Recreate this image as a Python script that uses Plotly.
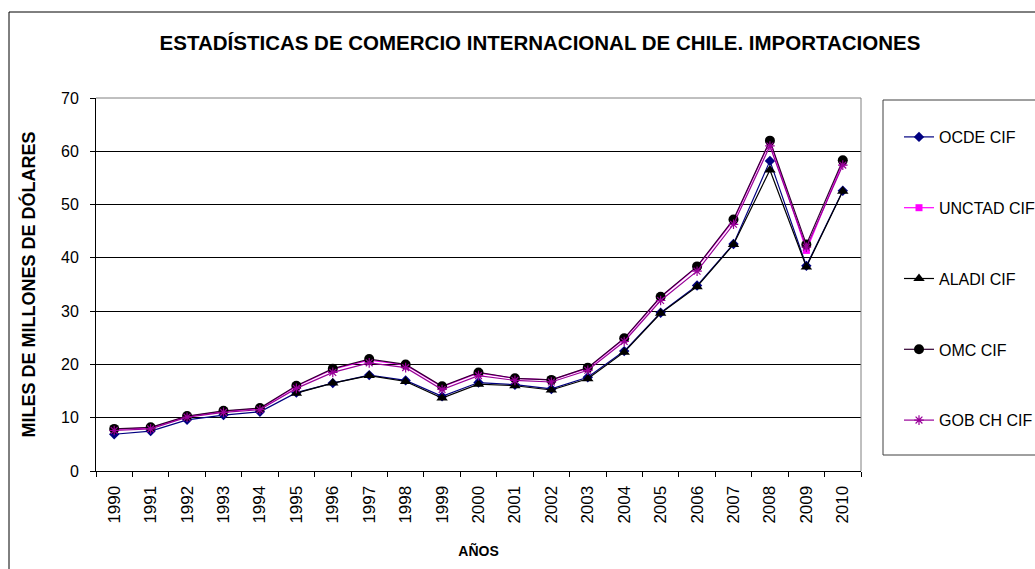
import plotly.graph_objects as go

years = [str(y) for y in range(1990, 2011)]

ocde = [6.9, 7.5, 9.6, 10.5, 11.1, 14.7, 16.5, 18.0, 17.0, 14.0, 16.6, 16.2, 15.4, 17.6, 22.5, 29.7, 34.8, 42.6, 58.2, 38.5, 52.6]
unctad = [7.8, 8.1, 10.2, 11.2, 11.7, 15.9, 19.1, 20.8, 19.9, 15.8, 18.4, 17.4, 17.1, 19.3, 24.8, 32.6, 38.3, 47.0, 61.9, 41.4, 58.0]
aladi = [None, None, None, None, None, 14.6, 16.5, 17.9, 16.8, 13.7, 16.3, 16.0, 15.2, 17.3, 22.3, 29.6, 34.6, 42.5, 56.5, 38.3, 52.5]
omc = [7.9, 8.2, 10.3, 11.3, 11.8, 16.0, 19.2, 21.0, 20.0, 15.9, 18.5, 17.4, 17.1, 19.4, 24.9, 32.7, 38.4, 47.2, 62.0, 42.5, 58.3]
gob = [7.6, 7.9, 10.1, 11.0, 11.5, 15.5, 18.5, 20.3, 19.4, 15.3, 17.9, 17.0, 16.7, 18.9, 24.3, 32.0, 37.5, 46.3, 61.0, 42.0, 57.4]

names = ["OCDE CIF", "UNCTAD CIF", "ALADI CIF", "OMC CIF", "GOB CH CIF"]
series = [ocde, unctad, aladi, omc, gob]
line_colors = ["#000080", "#FF00FF", "#000000", "#330033", "#990099"]
marker_colors = ["#000080", "#FF00FF", "#000000", "#000000", "#990099"]
symbols = ["diamond", "square", "triangle-up", "circle", "asterisk-open"]
sizes = [8, 7, 10, 10, 8]

FONT = "Liberation Sans, Arial, sans-serif"

fig = go.Figure()
for i, (n, s) in enumerate(zip(names, series)):
    fig.add_trace(go.Scatter(
        x=years, y=s, name=n, mode="lines+markers",
        legendgroup=n,
        line=dict(color=line_colors[i], width=1.2),
        marker=dict(symbol=symbols[i], size=sizes[i], color=marker_colors[i],
                    line=dict(color=marker_colors[i], width=1.2 if symbols[i] == "asterisk-open" else 0)),
        connectgaps=False,
    ))

L, R, T, B = 96, 861, 98, 471
W, H = 1035, 569

def px(x):
    return (x - L) / (R - L)

def py(y):
    return (B - y) / (B - T)

shapes = [
    dict(type="rect", xref="paper", yref="paper", x0=px(9), x1=px(1040), y0=py(12), y1=py(575),
         line=dict(color="black", width=1), fillcolor="rgba(0,0,0,0)", layer="below"),
    dict(type="line", xref="paper", yref="paper", x0=1, x1=1, y0=0, y1=1, line=dict(color="#808080", width=1)),
    dict(type="line", xref="paper", yref="paper", x0=0, x1=1, y0=1, y1=1, line=dict(color="#808080", width=1)),
    dict(type="rect", xref="paper", yref="paper", x0=px(883), x1=px(1040), y0=py(100), y1=py(455),
         line=dict(color="#404040", width=1), fillcolor="rgba(0,0,0,0)"),
]

fig.update_layout(
    width=W, height=H,
    margin=dict(l=L, r=W - R, t=T, b=H - B, autoexpand=False),
    paper_bgcolor="white", plot_bgcolor="white",
    font=dict(family=FONT, size=13, color="black"),
    title=dict(text="<b>ESTADÍSTICAS DE COMERCIO INTERNACIONAL DE CHILE. IMPORTACIONES</b>",
               x=540 / W, xanchor="center", y=1 - 43 / H, yanchor="middle",
               font=dict(family=FONT, size=20.5, color="black")),
    showlegend=True,
    legend=dict(x=px(899), xanchor="left", y=py(120), yanchor="top",
                font=dict(family=FONT, size=16, color="black"),
                tracegroupgap=47, bgcolor="rgba(0,0,0,0)", borderwidth=0,
                traceorder="grouped"),
    shapes=shapes,
    xaxis=dict(type="category", range=[-0.5, 20.5], tickangle=-90,
               tickson="boundaries", ticks="outside", ticklen=5, tickcolor="black",
               ticklabelstandoff=7,
               showline=True, linecolor="black", linewidth=1, showgrid=False,
               tickfont=dict(family=FONT, size=17),
               title=dict(text="<b>AÑOS</b>", font=dict(family=FONT, size=14), standoff=23)),
    yaxis=dict(range=[0, 70], dtick=10, ticks="outside", ticklen=5, tickcolor="black",
               ticklabelstandoff=8,
               showline=True, linecolor="black", linewidth=1,
               showgrid=True, gridcolor="black", gridwidth=1, zeroline=False,
               tickfont=dict(family=FONT, size=16),
               title=dict(text="<b>MILES DE MILLONES DE DÓLARES</b>", font=dict(family=FONT, size=18), standoff=20)),
)

fig.write_html("out.html", config={"displayModeBar": False},
               post_script="document.body.style.margin='0';")
